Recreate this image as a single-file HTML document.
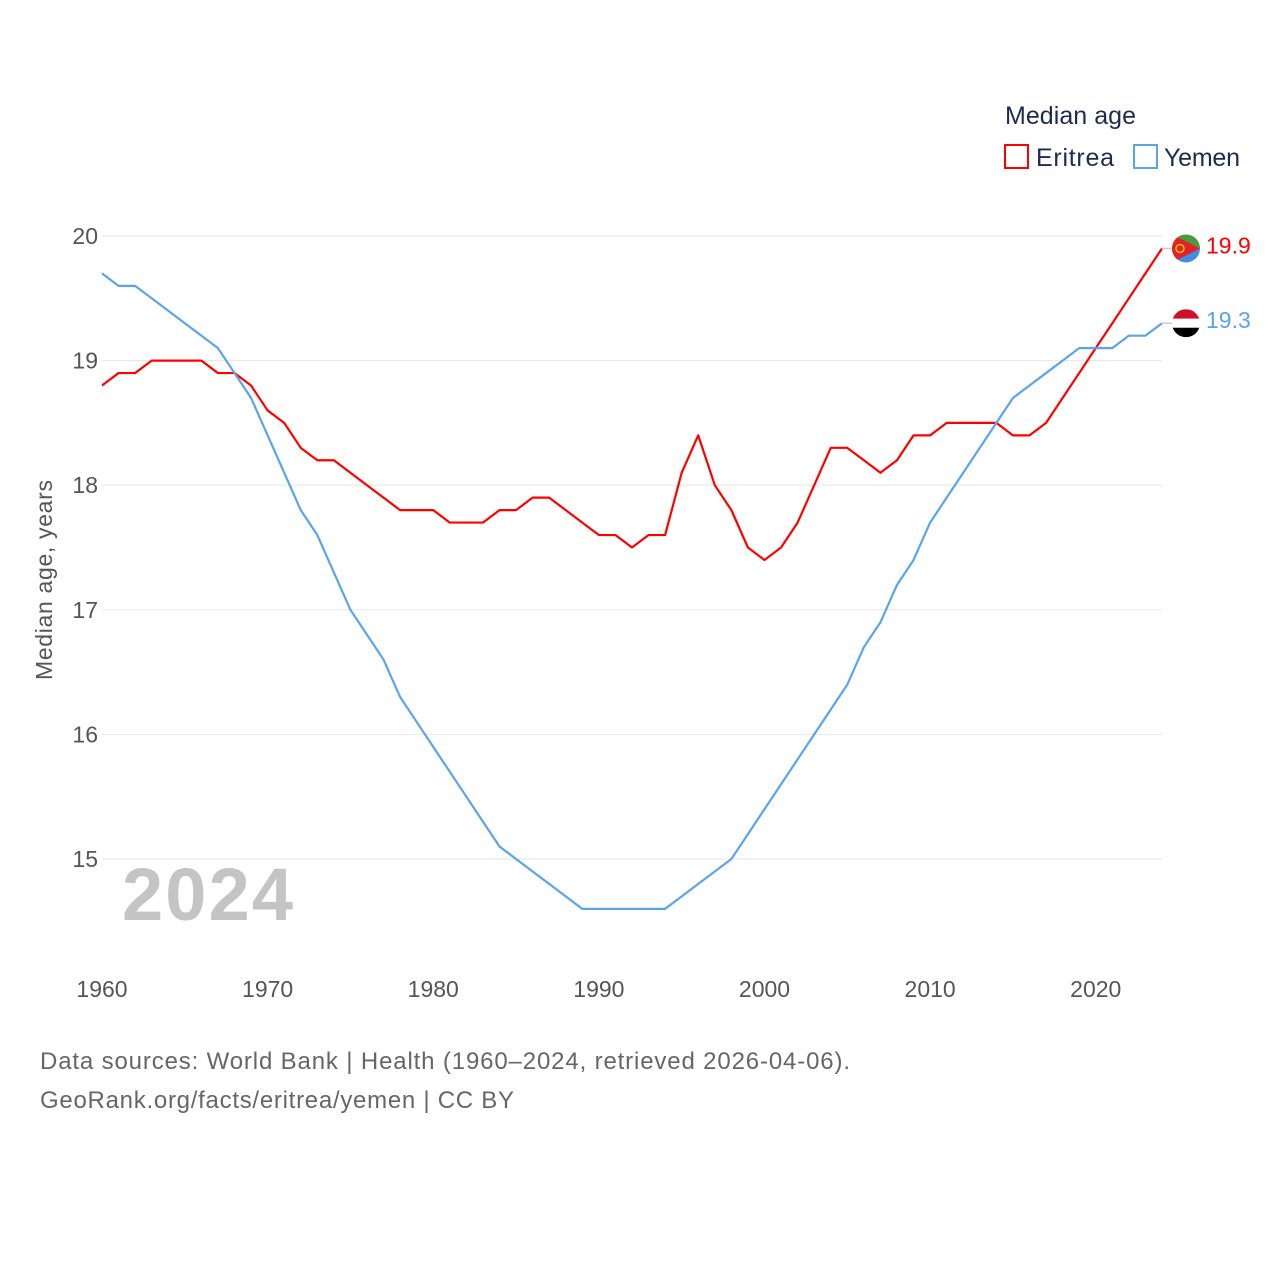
<!DOCTYPE html>
<html><head><meta charset="utf-8"><style>
body{margin:0;background:#fff;font-family:"Liberation Sans",sans-serif}
svg text{font-family:"Liberation Sans",sans-serif}
</style></head><body>
<svg id="chart" width="1280" height="1280" viewBox="0 0 1280 1280">
<g id="grid"></g>
<g id="yt"></g>
<g id="xt"></g>
<text x="52" y="580" transform="rotate(-90 52 580)" text-anchor="middle" font-size="23" fill="#555" textLength="200">Median age, years</text>
<text x="122" y="920" font-size="74" font-weight="bold" fill="#c4c4c4" textLength="171">2024</text>
<text x="1005" y="124" font-size="25" fill="#1d2b4f" textLength="131">Median age</text>
<g><rect x="1005" y="145" width="23" height="23" fill="none" stroke="#f00" stroke-width="2"/><text x="1036" y="166" font-size="25" fill="#1d2b4f" textLength="78">Eritrea</text></g>
<g><rect x="1134" y="145" width="23" height="23" fill="none" stroke="#5aa5ea" stroke-width="2"/><text x="1164" y="166" font-size="25" fill="#1d2b4f" textLength="76">Yemen</text></g>
<g id="series"></g>
<text x="40" y="1069" font-size="24" fill="#666" textLength="810">Data sources: World Bank | Health (1960–2024, retrieved 2026-04-06).</text>
<text x="40" y="1108" font-size="24" fill="#666" textLength="474">GeoRank.org/facts/eritrea/yemen | CC BY</text>
</svg>
<script>
const years=[];for(let y=1960;y<=2024;y++)years.push(y);
const eritrea=[18.8,18.9,18.9,19.0,19.0,19.0,19.0,18.9,18.9,18.8,18.6,18.5,18.3,18.2,18.2,18.1,18.0,17.9,17.8,17.8,17.8,17.7,17.7,17.7,17.8,17.8,17.9,17.9,17.8,17.7,17.6,17.6,17.5,17.6,17.6,18.1,18.4,18.0,17.8,17.5,17.4,17.5,17.7,18.0,18.3,18.3,18.2,18.1,18.2,18.4,18.4,18.5,18.5,18.5,18.5,18.4,18.4,18.5,18.7,18.9,19.1,19.3,19.5,19.7,19.9];
const yemen=[19.7,19.6,19.6,19.5,19.4,19.3,19.2,19.1,18.9,18.7,18.4,18.1,17.8,17.6,17.3,17.0,16.8,16.6,16.3,16.1,15.9,15.7,15.5,15.3,15.1,15.0,14.9,14.8,14.7,14.6,14.6,14.6,14.6,14.6,14.6,14.7,14.8,14.9,15.0,15.2,15.4,15.6,15.8,16.0,16.2,16.4,16.7,16.9,17.2,17.4,17.7,17.9,18.1,18.3,18.5,18.7,18.8,18.9,19.0,19.1,19.1,19.1,19.2,19.2,19.3];
const yTicks=[15,16,17,18,19,20];
const xTicks=[1960,1970,1980,1990,2000,2010,2020];
const X=y=>102+(y-1960)*(1162-102)/64;
const Y=v=>236+(20-v)*124.6;
const NS="http://www.w3.org/2000/svg";
function mk(tag,attrs,parent){const e=document.createElementNS(NS,tag);for(const k in attrs)e.setAttribute(k,attrs[k]);parent.appendChild(e);return e;}
const grid=document.getElementById('grid'),yt=document.getElementById('yt'),xt=document.getElementById('xt'),ser=document.getElementById('series');
yTicks.forEach(v=>{
 const l=mk('line',{x1:102,x2:1162,y1:Y(v),y2:Y(v),stroke:'#e6e6e6','stroke-width':1},grid);
 
 
 const t=mk('text',{x:98,y:Y(v)+8,'text-anchor':'end','font-size':23,fill:'#555'},yt);t.textContent=v;
 
 
});
xTicks.forEach(v=>{
 const t=mk('text',{x:X(v),y:997,'text-anchor':'middle','font-size':23,fill:'#555'},xt);t.textContent=v;
 
 
});
function line(data,color,name,label){
 const p=mk('polyline',{points:data.map((v,i)=>X(years[i])+','+Y(v)).join(' '),fill:'none',stroke:color,'stroke-width':2.2,'stroke-linejoin':'round'},ser);
 
 
 const last=data[data.length-1],ly=Y(last);
 mk('line',{x1:1162,x2:1172,y1:ly,y2:ly,stroke:'#ccc','stroke-width':1.5},ser);
 const t=mk('text',{x:1206,y:ly+5,'font-size':23,fill:color},ser);t.textContent=label;
 
 
 return ly;
}
const ey=line(eritrea,'#ff0000','eritrea','19.9');
const yy=line(yemen,'#5aa5ea','yemen','19.3');
let g=mk('g',{},ser);


mk('clipPath',{id:'c1'},g).appendChild(document.createElementNS(NS,'circle'));
const c1=document.querySelector('#c1 circle');c1.setAttribute('cx',1186);c1.setAttribute('cy',ey);c1.setAttribute('r',14);
const gg=mk('g',{'clip-path':'url(#c1)'},g);
mk('rect',{x:1172,y:ey-14,width:28,height:14,fill:'#4b9a3c'},gg);
mk('rect',{x:1172,y:ey,width:28,height:14,fill:'#3f8ee0'},gg);
mk('polygon',{points:`1172,${ey-14} 1200,${ey} 1172,${ey+14}`,fill:'#e4202a'},gg);
mk('circle',{cx:1180,cy:ey,r:4,fill:'none',stroke:'#f5c400','stroke-width':1.5},gg);
g=mk('g',{},ser);


mk('clipPath',{id:'c2'},g).appendChild(document.createElementNS(NS,'circle'));
const c2=document.querySelector('#c2 circle');c2.setAttribute('cx',1186);c2.setAttribute('cy',yy);c2.setAttribute('r',14);
const g2=mk('g',{'clip-path':'url(#c2)'},g);
mk('rect',{x:1172,y:yy-14,width:28,height:9.5,fill:'#ce1126'},g2);
mk('rect',{x:1172,y:yy-4.5,width:28,height:9,fill:'#fff'},g2);
mk('rect',{x:1172,y:yy+4.5,width:28,height:9.5,fill:'#000'},g2);
</script>
</body></html>
